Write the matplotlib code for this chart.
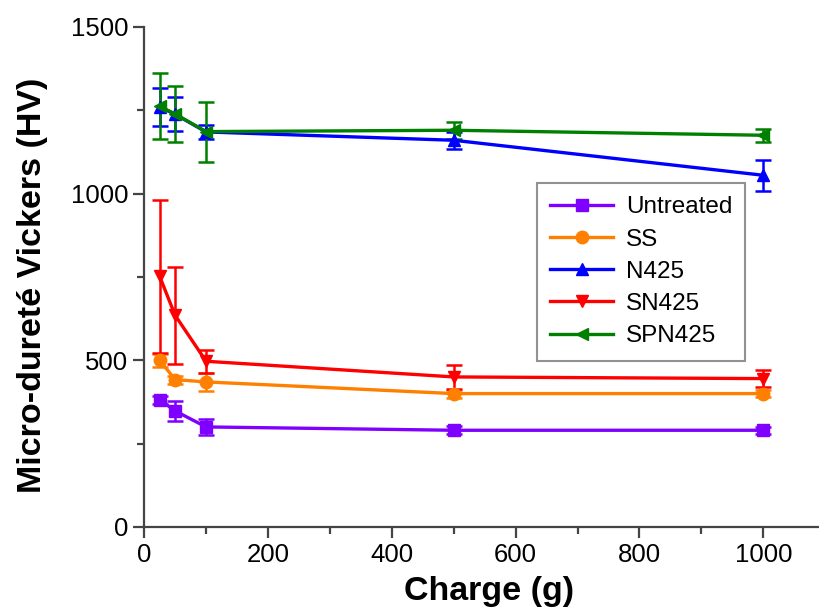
import numpy as np
import matplotlib
matplotlib.use("Agg")
import matplotlib.pyplot as plt

plt.rcParams['font.family'] = ['Liberation Sans', 'DejaVu Sans']

charge = [25, 50, 100, 500, 1000]

untreated = [382, 348, 300, 290, 290]
untreated_err = [12, 30, 25, 12, 10]
ss = [500, 442, 435, 400, 400]
ss_err = [20, 12, 28, 12, 10]
n425 = [1260, 1238, 1185, 1160, 1055]
n425_err = [58, 51, 20, 25, 46]
sn425 = [752, 635, 497, 450, 445]
sn425_err = [230, 145, 35, 37, 25]
spn425 = [1262, 1239, 1186, 1190, 1175]
spn425_err = [99, 83, 90, 25, 20]

series = [
    ('Untreated', untreated, untreated_err, '#7F00FF', 's'),
    ('SS', ss, ss_err, '#FF8000', 'o'),
    ('N425', n425, n425_err, '#0000FF', '^'),
    ('SN425', sn425, sn425_err, '#FF0000', 'v'),
    ('SPN425', spn425, spn425_err, '#008000', '<'),
]

fig = plt.figure(figsize=(8.19, 6.12), dpi=100)
ax = fig.add_axes([0.176, 0.139, 0.824, 0.817])

handles = []
names = []
for name, y, err, col, mk in series:
    eb = ax.errorbar(charge, y, yerr=err, color=col, marker=mk, markersize=9,
                     linewidth=2.4, elinewidth=1.8, capsize=6, capthick=1.8)
    handles.append(eb[0])
    names.append(name)

ax.set_xlim(0, 1090)
ax.set_ylim(0, 1500)
ax.set_xticks([0, 200, 400, 600, 800, 1000])
ax.set_xticks(np.arange(100, 1100, 200), minor=True)
ax.set_yticks([0, 500, 1000, 1500])
ax.set_yticks([250, 750, 1250], minor=True)
ax.spines['top'].set_visible(False)
ax.spines['right'].set_visible(False)
for s in ['left', 'bottom']:
    ax.spines[s].set_color('#444444')
    ax.spines[s].set_linewidth(1.6)
ax.tick_params(which='major', direction='out', length=8, width=1.6, labelsize=18.5, color='#444444')
ax.tick_params(which='minor', direction='out', length=5, width=1.6, color='#444444')

ax.set_xlabel('Charge (g)', fontsize=24.5, fontweight='bold')
ax.set_ylabel('Micro-dureté Vickers (HV)', fontsize=24.5, fontweight='bold')
ax.xaxis.set_label_coords(0.511, -0.098)
ax.yaxis.set_label_coords(-0.142, 0.484)

leg = ax.legend(handles, names, loc='upper left', bbox_to_anchor=(0.582, 0.688), fontsize=17.5,
                frameon=True, fancybox=False, edgecolor='#777777', handlelength=2.6,
                labelspacing=0.42, borderpad=0.55, handletextpad=0.5, borderaxespad=0)
leg.get_frame().set_linewidth(1.5)

plt.savefig('out.png', dpi=100)
